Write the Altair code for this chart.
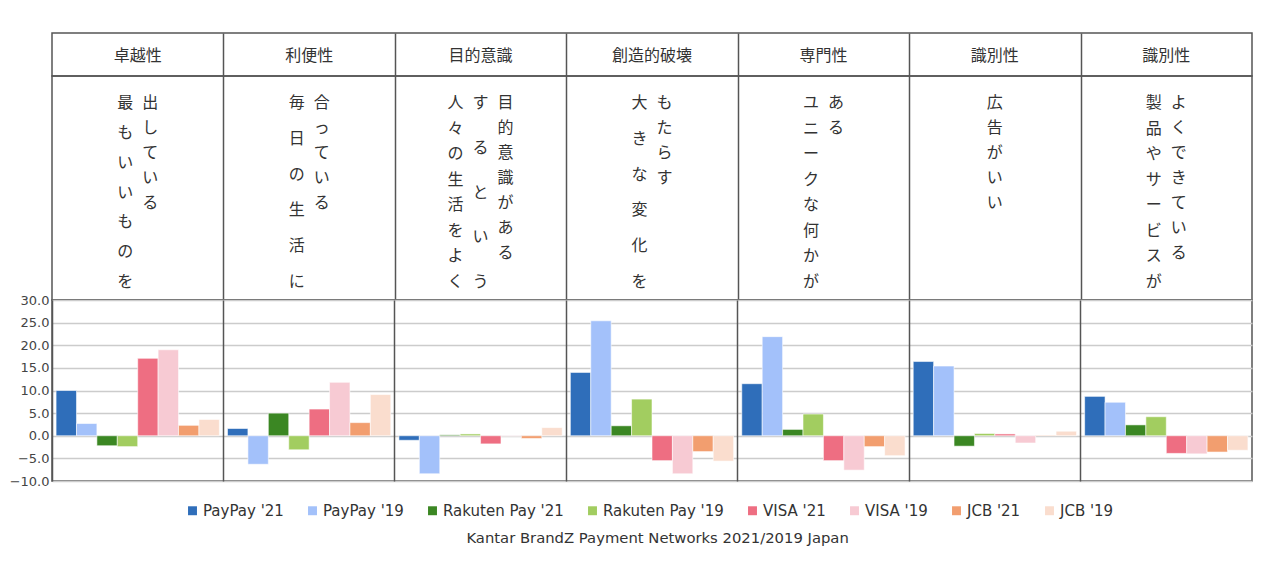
import altair as alt
import pandas as pd

# ---------------- data ----------------
categories = ["卓越性", "利便性", "目的意識", "創造的破壊", "専門性", "識別性", "識別性"]

# description text of each cell, one string per vertical column, rightmost column first
descriptions = [
    ["出している", "最もいいものを"],
    ["合っている", "毎日の生活に"],
    ["目的意識がある", "するという", "人々の生活をよく"],
    ["もたらす", "大きな変化を"],
    ["ある", "ユニークな何かが"],
    ["広告がいい"],
    ["よくできている", "製品やサービスが"],
]

series = ["PayPay '21", "PayPay '19", "Rakuten Pay '21", "Rakuten Pay '19",
          "VISA '21", "VISA '19", "JCB '21", "JCB '19"]
colors = ["#2f6eba", "#a3c1fa", "#3b8723", "#a2cd60",
          "#ee6e82", "#f7cad3", "#f29e6f", "#faddce"]

paypay21 = [10.0, 1.6, -1.0, 14.0, 11.5, 16.4, 8.7]
paypay19 = [2.7, -6.3, -8.4, 25.4, 21.9, 15.4, 7.4]
rakuten21 = [-2.2, 5.0, 0.2, 2.2, 1.4, -2.3, 2.4]
rakuten19 = [-2.4, -3.1, 0.4, 8.1, 4.8, 0.5, 4.2]
visa21 = [17.1, 5.9, -1.8, -5.5, -5.5, 0.4, -3.9]
visa19 = [19.0, 11.8, -0.1, -8.4, -7.6, -1.6, -4.0]
jcb21 = [2.3, 2.9, -0.6, -3.5, -2.4, 0.1, -3.6]
jcb19 = [3.6, 9.1, 1.8, -5.6, -4.4, 1.0, -3.2]

y_ticks = [-10, -5, 0, 5, 10, 15, 20, 25, 30]
caption = "Kantar BrandZ Payment Networks 2021/2019 Japan"

# ---------------- layout constants ----------------
W = 1200
H_HEAD, H_TEXT, H_BAR = 43, 224, 181
n_cells = len(categories)
BORDER = "#555555"
FONT_JP = "Noto Sans CJK JP"
FONT_LAT = "DejaVu Sans"

# ---------------- tables ----------------
values = [paypay21, paypay19, rakuten21, rakuten19, visa21, visa19, jcb21, jcb19]
bar_rows = []
for s, vals in zip(series, values):
    for i, v in enumerate(vals):
        bar_rows.append({"cell": i, "series": s, "value": v})
bar_df = pd.DataFrame(bar_rows)

head_df = pd.DataFrame({"pos": [i + 0.5 for i in range(n_cells)], "label": categories})

# vertical text layout: rightmost column at natural spacing,
# following columns spread over the full cell height
TOP, STEP, SPAN, COLSTEP = 27, 25, 179, 25
char_rows = []
for i, cols in enumerate(descriptions):
    m = len(cols)
    for j, col in enumerate(cols):
        xoff = ((m - 1) / 2 - j) * COLSTEP
        n = len(col)
        step = STEP if (j == 0 or n < 2) else SPAN / (n - 1)
        for k, ch in enumerate(col):
            char_rows.append({
                "x": i + 0.5 + xoff * n_cells / W,
                "y": TOP + k * step,
                "ch": ch,
            })
char_df = pd.DataFrame(char_rows)

grid_axis_q = alt.Axis(values=list(range(1, n_cells)), grid=True, gridColor=BORDER,
                       gridWidth=1.5, labels=False, ticks=False, domain=False, title=None)
xq = alt.Scale(domain=[0, n_cells], nice=False, zero=False)

header = alt.Chart(head_df).mark_text(font=FONT_JP, fontSize=16, color="#333333",
                                      baseline="middle", align="center").encode(
    x=alt.X("pos:Q", scale=xq, axis=grid_axis_q),
    y=alt.value(H_HEAD / 2 + 1),
    text="label:N",
).properties(width=W, height=H_HEAD)

textrow = alt.Chart(char_df).mark_text(font=FONT_JP, fontSize=16, color="#333333",
                                       baseline="middle", align="center").encode(
    x=alt.X("x:Q", scale=xq, axis=grid_axis_q),
    y=alt.Y("y:Q", scale=alt.Scale(domain=[0, H_TEXT], reverse=True, nice=False, zero=False),
            axis=None),
    text="ch:N",
).properties(width=W, height=H_TEXT)

bars = alt.Chart(bar_df).mark_bar(stroke="white", strokeWidth=0.8, strokeOpacity=0.7).encode(
    x=alt.X("cell:O", scale=alt.Scale(paddingInner=0, paddingOuter=0),
            axis=alt.Axis(labels=False, ticks=False, domain=False, title=None, grid=True,
                          bandPosition=0, gridColor=BORDER, gridWidth=1.5, zindex=1)),
    xOffset=alt.XOffset("series:N", sort=series,
                        scale=alt.Scale(paddingOuter=0.2, paddingInner=0)),
    y=alt.Y("value:Q", scale=alt.Scale(domain=[-10, 30], nice=False),
            axis=alt.Axis(values=y_ticks, format=".1f", title=None, domain=False, ticks=False,
                          tickSize=0, labelPadding=3, labelFont=FONT_LAT, labelFontSize=13,
                          labelColor="#444444", gridColor="#cccccc", gridWidth=1.3)),
    color=alt.Color("series:N", sort=series, scale=alt.Scale(domain=series, range=colors),
                    legend=alt.Legend(title=None, orient="none", legendX=133, legendY=470,
                                      direction="horizontal",
                                      symbolType="square", symbolSize=80,
                                      symbolStrokeWidth=0, labelFont=FONT_LAT,
                                      labelFontSize=15, labelColor="#333333",
                                      columnPadding=21, labelOffset=3)),
).properties(width=W, height=H_BAR)

chart = alt.vconcat(header, textrow, bars, spacing=0, bounds="flush").properties(
    title=alt.TitleParams(caption, orient="bottom", anchor="middle", font=FONT_LAT,
                          fontSize=14.8, fontWeight="normal", color="#333333", offset=12,
                          dx=27),
    padding={"left": 0, "top": 24, "right": 5, "bottom": 5},
    background="white",
).configure_view(stroke=BORDER, strokeWidth=1.5)

chart.save("out.html", embed_options={"renderer": "svg", "actions": False})
